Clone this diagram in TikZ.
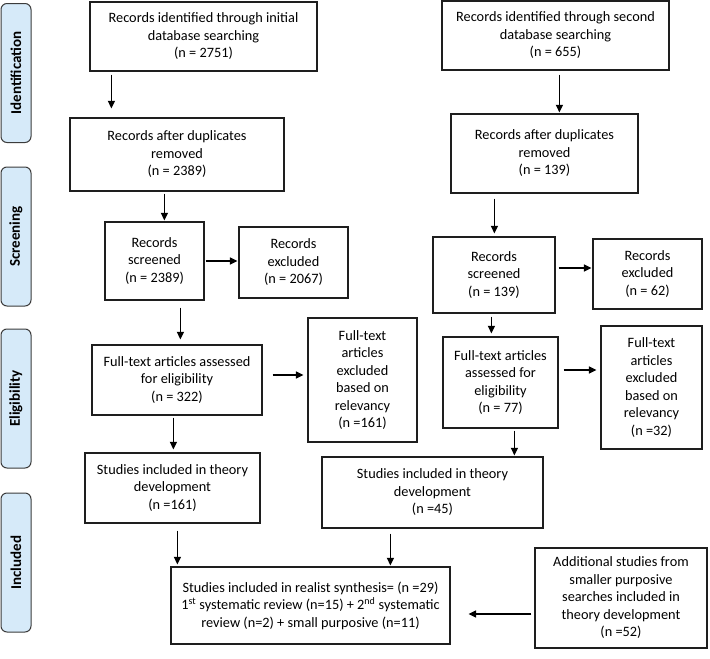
\documentclass[tikz,border=0pt]{standalone}
\usepackage{fontspec}
\setmainfont{Carlito}
\usetikzlibrary{arrows.meta,calc}
\definecolor{phasefill}{RGB}{214,234,249}
\definecolor{phaseline}{RGB}{60,60,60}
\definecolor{boxline}{RGB}{30,30,30}
\begin{document}
\begin{tikzpicture}[x=1pt,y=-1pt,
 box/.style={draw=boxline,line width=1.2pt,inner sep=0pt,align=center,font=\fontsize{14.3}{17.5}\selectfont},
 phase/.style={draw=phaseline,fill=phasefill,line width=1pt,rounded corners=6pt,minimum width=139pt,minimum height=30pt,inner sep=0pt,font=\fontsize{15}{18}\selectfont\bfseries,rotate=90},
 arr/.style={-{Triangle[length=7.5pt,width=7pt]},line width=1.3pt,draw=black}]
\fill[white] (0,0) rectangle (710,659);
\useasboundingbox (0,0) rectangle (710,659);

% phase labels
\node[phase] (p1) at (16,73) {Identification};
\node[phase] (p2) at (16,236.5) {Screening};
\node[phase] (p3) at (16,398.5) {Eligibility};
\node[phase] (p4) at (16,562.5) {Included};

% left column
\node[box,minimum width=227pt,minimum height=69pt] (b1) at (203.5,36.5) {Records identified through initial\\database searching\\(n = 2751)};
\node[box,minimum width=214pt,minimum height=73pt] (b2) at (177,154.5) {Records after duplicates\\removed\\(n = 2389)};
\node[box,minimum width=99pt,minimum height=78pt] (b3) at (154.5,261) {Records\\screened\\(n = 2389)};
\node[box,minimum width=109pt,minimum height=71pt] (b4) at (293.5,262.5) {Records\\excluded\\(n = 2067)};
\node[box,minimum width=170pt,minimum height=70pt] (b5) at (177,380) {Full-text articles assessed\\for eligibility\\(n = 322)};
\node[box,minimum width=109pt,minimum height=124pt] (b6) at (362.5,380) {Full-text\\articles\\excluded\\based on\\relevancy\\(n =161)};
\node[box,minimum width=175pt,minimum height=70pt] (b7) at (172.5,488) {Studies included in theory\\development\\(n =161)};
\node[box,minimum width=279pt,minimum height=77pt] (b9) at (310.5,605.5) {Studies included in realist synthesis= (n =29)\\1\textsuperscript{st} systematic review (n=15) + 2\textsuperscript{nd} systematic\\review (n=2) + small purposive (n=11)};

% right column
\node[box,minimum width=227pt,minimum height=69pt] (r1) at (555.5,35.5) {Records identified through second\\database searching\\(n = 655)};
\node[box,minimum width=187pt,minimum height=79pt] (r2) at (544.5,153.5) {Records after duplicates\\removed\\(n = 139)};
\node[box,minimum width=122pt,minimum height=76pt] (r3) at (494,275) {Records\\screened\\(n = 139)};
\node[box,minimum width=109pt,minimum height=70pt] (r4) at (647.5,274) {Records\\excluded\\(n = 62)};
\node[box,minimum width=115pt,minimum height=91pt] (r5) at (500.5,382.5) {Full-text articles\\assessed for\\eligibility\\(n = 77)};
\node[box,minimum width=101pt,minimum height=123pt] (r6) at (651.5,387.5) {Full-text\\articles\\excluded\\based on\\relevancy\\(n =32)};
\node[box,minimum width=221pt,minimum height=71pt] (r7) at (432.5,492.5) {Studies included in theory\\development\\(n =45)};
\node[box,minimum width=172pt,minimum height=100pt] (r8) at (621,598) {Additional studies from\\smaller purposive\\searches included in\\theory development\\(n =52)};

% left arrows
\draw[arr] ($(b1.south west)+(22,3)$) -- ($(b2.north west)+(42,-9)$);
\draw[arr] ($(b2.south west)+(95,2)$) -- ($(b3.north west)+(60,-1)$);
\draw[arr] ($(b3.east)+(1,0)$) -- ($(b4.west)+(-1,-1.5)$);
\draw[arr] ($(b3.south west)+(76,7)$) -- ($(b5.north west)+(89,-5)$);
\draw[arr] ($(b5.east)+(10,-5)$) -- ($(b6.west)+(-4,-5)$);
\draw[arr] ($(b5.south west)+(82,2)$) -- ($(b7.north west)+(89,-3)$);
\draw[arr] ($(b7.south west)+(93,7)$) -- ($(b9.north west)+(7,-2)$);

% right arrows
\draw[arr] ($(r1.south west)+(118,4)$) -- ($(r2.north west)+(109,-1)$);
\draw[arr] ($(r2.south west)+(44,5)$) -- ($(r3.north west)+(62,-3)$);
\draw[arr] ($(r3.east)+(3,-7)$) -- ($(r4.west)+(-1,-6)$);
\draw[arr] ($(r3.south west)+(59,3)$) -- ($(r5.north west)+(49,-3)$);
\draw[arr] ($(r5.east)+(5,-12.5)$) -- ($(r6.west)+(-4,-17.5)$);
\draw[arr] ($(r5.south west)+(72,2)$) -- ($(r7.north west)+(193,-1)$);
\draw[arr] ($(r7.south west)+(69,5)$) -- ($(b9.north west)+(220,-1)$);
\draw[arr] ($(r8.west)+(-3,16)$) -- ($(b9.east)+(18,8.5)$);
\end{tikzpicture}
\end{document}
